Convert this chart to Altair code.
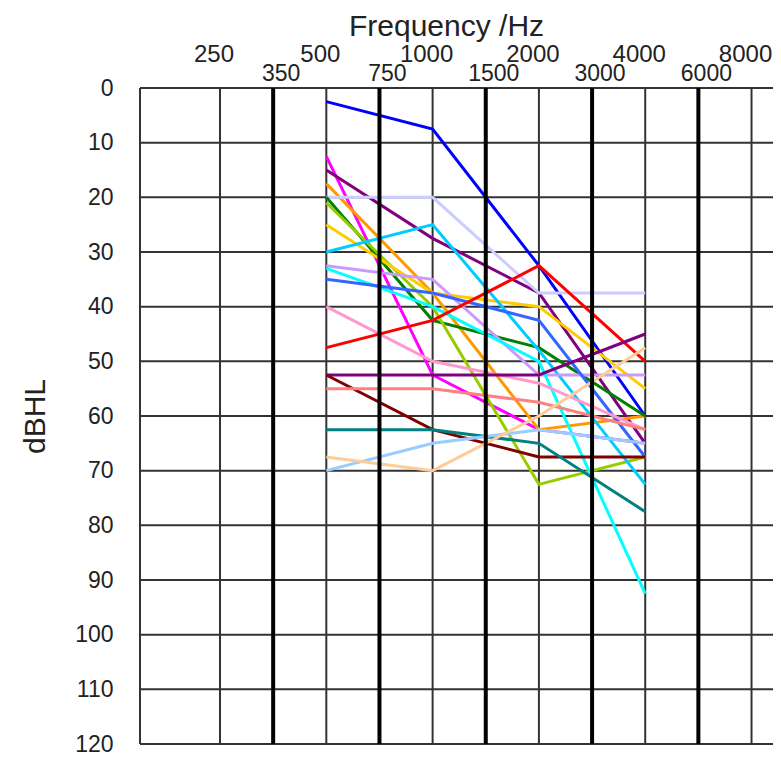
import altair as alt
import pandas as pd

# ---- tick labels along the frequency axis (half-octave steps) ----
tick_labels = ["250", "350", "500", "750", "1000", "1500", "2000", "3000", "4000", "6000", "8000"]
tick_row = ["upper", "lower", "upper", "lower", "upper", "lower", "upper", "lower", "upper", "lower", "upper"]
y_ticks = [0, 10, 20, 30, 40, 50, 60, 70, 80, 90, 100, 110, 120]

# ---- measured frequencies ----
freqs = ["500", "1000", "2000", "4000"]

# ---- series (dB HL at 500, 1000, 2000, 4000 Hz) ----
series_names = ["s01", "s02", "s03", "s04", "s05", "s06", "s07", "s08", "s09", "s10",
                "s11", "s12", "s13", "s14", "s15", "s16", "s17", "s18", "s19", "s20"]
series_colors = ["#0000FF", "#FF00FF", "#800080", "#FF9900", "#CCCCFF", "#008000", "#99CC00",
                 "#FFCC00", "#00CCFF", "#CC99FF", "#00FFFF", "#3366FF", "#FF99CC", "#FF0000",
                 "#800080", "#800000", "#FF8080", "#008080", "#99CCFF", "#FFCC99"]
s01 = [2.5, 7.5, 32.5, 60]
s02 = [12.5, 52.5, 62.5, 65]
s03 = [15, 27.5, 37.5, 65]
s04 = [17.5, 37.5, 62.5, 60]
s05 = [20, 20, 37.5, 37.5]
s06 = [20, 42.5, 47.5, 60]
s07 = [21, 40, 72.5, 67.5]
s08 = [25, 37.5, 40, 55]
s09 = [30, 25, 48, 72.5]
s10 = [32.5, 35, 52.5, 52.5]
s11 = [33, 40, 50, 92.5]
s12 = [35, 37.5, 42.5, 67.5]
s13 = [40, 50, 54, 62.5]
s14 = [47.5, 42.5, 32.5, 50]
s15 = [52.5, 52.5, 52.5, 45]
s16 = [52.5, 62.5, 67.5, 67.5]
s17 = [55, 55, 57.5, 62.5]
s18 = [62.5, 62.5, 65, 77.5]
s19 = [70, 65, 62.5, 65]
s20 = [67.5, 70, 60, 47.5]
series_values = [s01, s02, s03, s04, s05, s06, s07, s08, s09, s10,
                 s11, s12, s13, s14, s15, s16, s17, s18, s19, s20]

# ---- tables built from the arrays ----
ticks_df = pd.DataFrame({
    "label": tick_labels,
    "row": tick_row,
    "p": [i * 0.5 for i in range(len(tick_labels))],
})
rows = []
for name, vals in zip(series_names, series_values):
    for k, (f, v) in enumerate(zip(freqs, vals)):
        rows.append({"series": name, "p": tick_labels.index(f) * 0.5, "db": v, "k": k})
lines_df = pd.DataFrame(rows)
hgrid_df = pd.DataFrame({"db": y_ticks})

W, H = 633, 656
xscale = alt.Scale(domain=[-0.7526, 5.202], nice=False, zero=False)
yscale = alt.Scale(domain=[0, 120], reverse=True, nice=False, zero=False)

hgrid = alt.Chart(hgrid_df).mark_rule(color="#333333", strokeWidth=2).encode(
    y=alt.Y("db:Q", scale=yscale,
            axis=alt.Axis(values=y_ticks, ticks=False, tickSize=0, domain=False, grid=False,
                          labelFontSize=23, labelPadding=27, labelColor="#222222",
                          title="dBHL", titleFontSize=30, titleFontWeight="normal",
                          titleColor="#222222", titlePadding=24)),
    x=alt.value(0), x2=alt.value(W),
)

left_border = alt.Chart(hgrid_df).mark_rule(color="#333333", strokeWidth=2).encode(
    x=alt.value(0), y=alt.value(0), y2=alt.value(H)
)

vthin = alt.Chart(ticks_df).transform_filter(alt.datum.row == "upper").mark_rule(
    color="#333333", strokeWidth=2).encode(
    x=alt.X("p:Q", scale=xscale, axis=None), y=alt.value(0), y2=alt.value(H)
)

vthick = alt.Chart(ticks_df).transform_filter(alt.datum.row == "lower").mark_rule(
    color="#000000", strokeWidth=4).encode(
    x=alt.X("p:Q", scale=xscale, axis=None), y=alt.value(0), y2=alt.value(H)
)

lines = alt.Chart(lines_df).mark_line(strokeWidth=3).encode(
    x=alt.X("p:Q", scale=xscale, axis=None),
    y=alt.Y("db:Q", scale=yscale),
    color=alt.Color("series:N", scale=alt.Scale(domain=series_names, range=series_colors), legend=None),
    order="k:Q",
)

upper_lbl = alt.Chart(ticks_df).transform_filter(alt.datum.row == "upper").mark_text(
    fontSize=24, baseline="middle", align="center", dx=-6, color="#222222").encode(
    x=alt.X("p:Q", scale=xscale, axis=None), y=alt.value(-33), text="label:N"
)
lower_lbl = alt.Chart(ticks_df).transform_filter(alt.datum.row == "lower").mark_text(
    fontSize=23, baseline="middle", align="center", dx=8, color="#222222").encode(
    x=alt.X("p:Q", scale=xscale, axis=None), y=alt.value(-14), text="label:N"
)

chart = alt.layer(hgrid, vthin, left_border, lines, vthick, upper_lbl, lower_lbl).properties(
    width=W, height=H,
    title=alt.TitleParams("Frequency /Hz", fontSize=30, fontWeight="normal", anchor="middle",
                          dx=-10, offset=1, color="#222222"),
    autosize=alt.AutoSizeParams(type="none"),
    padding={"left": 132, "top": 80, "right": 0, "bottom": 12},
).configure(font="Liberation Sans").configure_view(stroke=None)

chart.save("out.html", embed_options={"renderer": "svg", "actions": False})
